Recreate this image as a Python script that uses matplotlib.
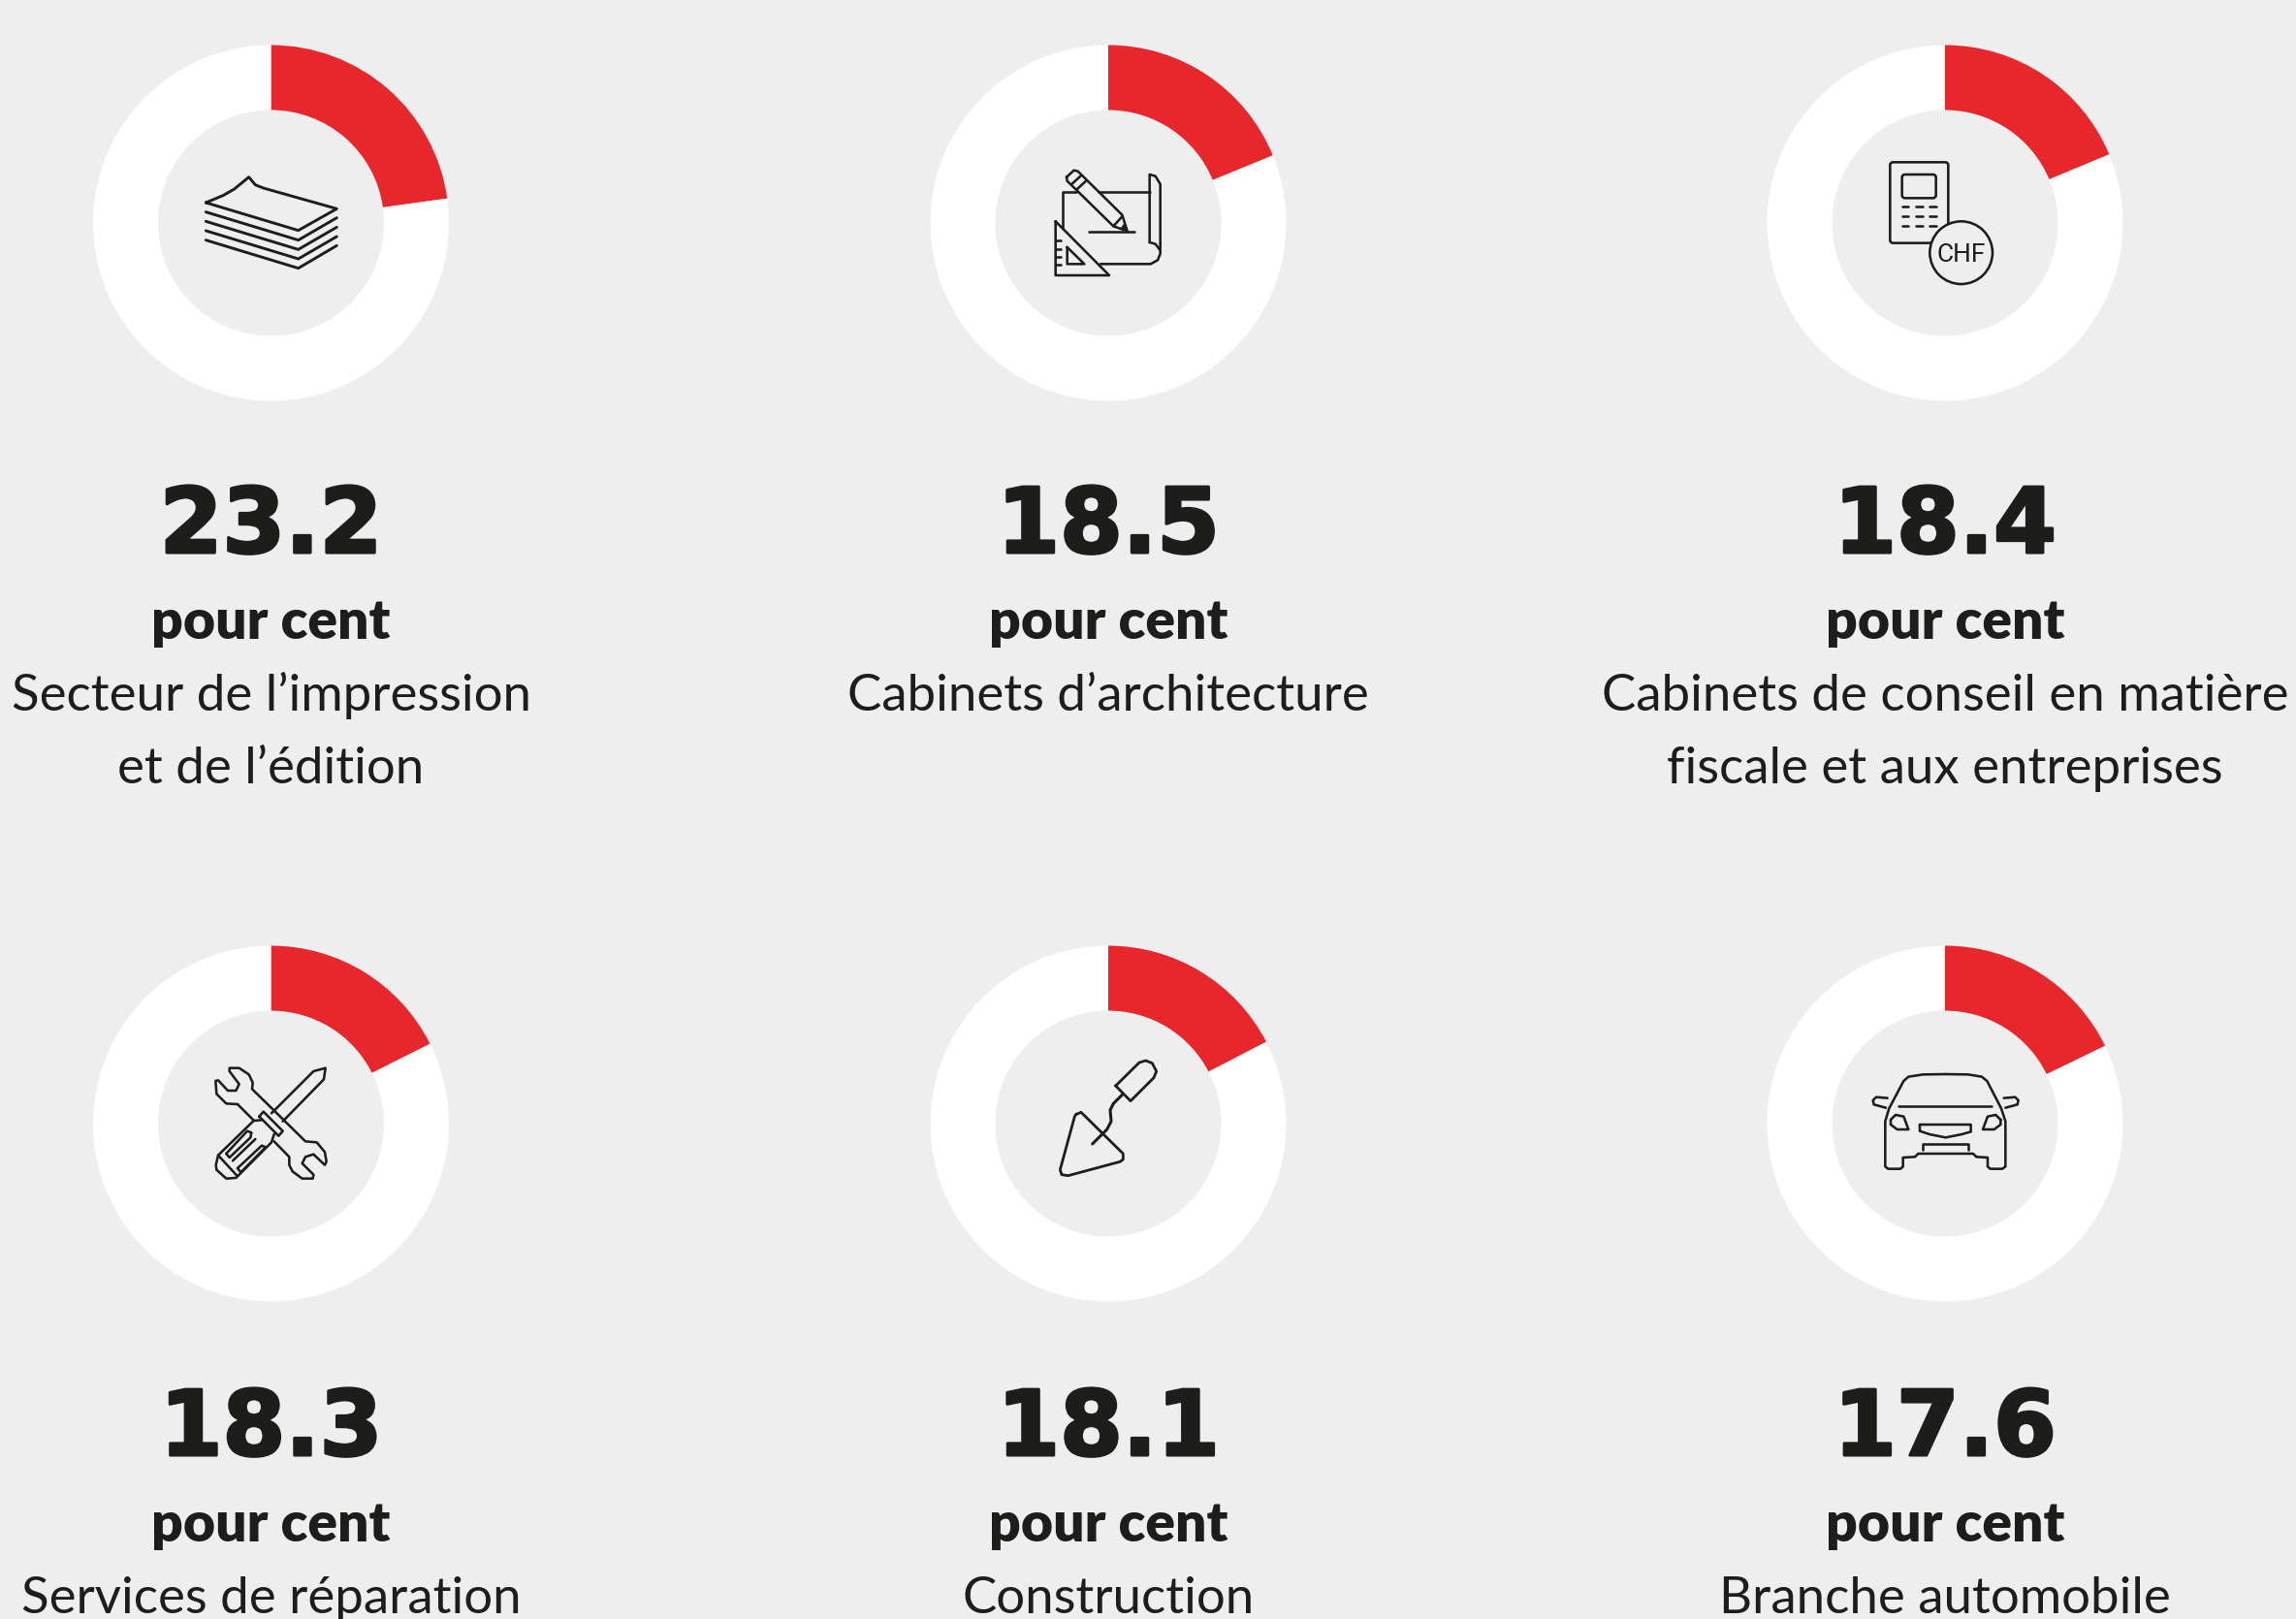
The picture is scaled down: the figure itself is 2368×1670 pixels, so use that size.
#!/usr/bin/env python3
import matplotlib
import matplotlib.pyplot as plt
import matplotlib.patheffects as pe
from matplotlib.patches import Circle, FancyBboxPatch

matplotlib.use("Agg")
matplotlib.rcParams["font.family"] = ["Lato", "DejaVu Sans"]

W, H = 2368, 1670
BG = "#eeeeee"
RED = "#e7272c"
INK = "#1d1d1b"

# the printed figures, and the red shares as actually drawn in the picture
value_labels = ["23.2", "18.5", "18.4", "18.3", "18.1", "17.6"]
shares = [22.8, 18.8, 18.7, 17.6, 17.4, 17.8]
unit = "pour cent"
labels = [
    ["Secteur de l’impression", "et de l’édition"],
    ["Cabinets d’architecture"],
    ["Cabinets de conseil en matière", "fiscale et aux entreprises"],
    ["Services de réparation"],
    ["Construction"],
    ["Branche automobile"],
]

COL_X = [279.5, 1143, 2006]
ROW_Y = [230, 1159]
TEXT_Y = [0, 931]
R_OUT = 183.5
R_IN = 116.5
LW = 1.85


def lines(ax, origin, polys, lw=LW):
    # icon outlines were measured on 3x crops, hence the /3
    for poly in polys:
        xs = [origin[0] + p[0] / 3 for p in poly]
        ys = [origin[1] + p[1] / 3 for p in poly]
        ax.plot(xs, ys, color=INK, lw=lw, solid_capstyle="round",
                solid_joinstyle="round", zorder=5)


def icon_paper(ax):
    polys = [
        [(187, 267), (240, 245), (275, 225), (320, 188), (340, 212), (365, 222),
         (592, 286), (473, 353), (187, 267)],
        [(187, 296), (473, 383), (592, 314)],
        [(187, 325), (473, 412), (592, 343)],
        [(187, 354), (473, 441), (592, 372)],
        [(187, 383), (473, 470), (592, 400)],
    ]
    lines(ax, (150, 120), polys, lw=2.1)


def icon_plan(ax):
    o = (1040, 140)
    polys = [
        [(210, 175), (168, 175), (168, 285)],
        [(280, 175), (437, 175)],
        [(437, 330), (437, 120), (455, 125), (470, 150), (470, 365), (462, 385),
         (440, 397), (285, 397)],
        [(437, 330), (455, 335), (470, 355)],
        [(146, 265), (146, 432), (312, 432), (146, 265)],
        [(182, 345), (182, 397), (235, 397), (182, 345)],
        [(146, 325), (163, 325)], [(146, 350), (163, 350)],
        [(146, 375), (163, 375)], [(146, 400), (163, 400)],
        [(180, 128), (203, 107), (215, 110), (352, 245), (368, 295), (325, 280),
         (182, 140), (180, 128)],
        [(198, 148), (223, 125)], [(213, 165), (240, 140)],
        [(325, 280), (352, 250)],
        [(250, 297), (390, 297)],
    ]
    lines(ax, o, polys)
    ax.fill([o[0] + x / 3 for x in (350, 368, 360)],
            [o[1] + y / 3 for y in (286, 296, 272)], color=INK, zorder=5)


def icon_chf(ax):
    o = (1900, 140)
    ax.add_patch(FancyBboxPatch((o[0] + 148 / 3, o[1] + 82 / 3), 180 / 3, 250 / 3,
                                boxstyle="round,pad=0,rounding_size=3", fc="none",
                                ec=INK, lw=LW, zorder=4))
    ax.add_patch(FancyBboxPatch((o[0] + 185 / 3, o[1] + 120 / 3), 105 / 3, 73 / 3,
                                boxstyle="round,pad=0,rounding_size=3", fc="none",
                                ec=INK, lw=LW, zorder=4))
    dashes = []
    for y in (220, 250, 280):
        for x in (185, 228, 270):
            dashes.append([(x, y), (x + 20, y)])
    lines(ax, o, dashes)
    ax.add_patch(Circle((o[0] + 368 / 3, o[1] + 362 / 3), 97 / 3, fc=BG, ec=INK,
                        lw=LW, zorder=6))
    ax.text(o[0] + 369 / 3, o[1] + 390 / 3, "CHF", ha="center", va="baseline",
            fontsize=19, color=INK, family="Roboto", zorder=7)


def icon_tools(ax):
    polys = [
        [(165, 207), (130, 205), (100, 175), (97, 135), (105, 133), (135, 165),
         (160, 165), (170, 145), (140, 105), (140, 95), (170, 95), (200, 115),
         (212, 140), (210, 160), (310, 258), (375, 322), (410, 325), (435, 355),
         (440, 385), (435, 395), (400, 362), (375, 370), (365, 390), (400, 425),
         (398, 437), (365, 437), (335, 415), (325, 395), (325, 370), (278, 322)],
        [(165, 207), (213, 255)],
        [(270, 235), (400, 105), (437, 95), (432, 130), (305, 260)],
        [(232, 245), (245, 230), (305, 290), (292, 305), (232, 245)],
        [(240, 256), (215, 258), (105, 365), (98, 395), (100, 410), (130, 437),
         (160, 435), (270, 325), (278, 300)],
        [(105, 365), (165, 430)],
        [(130, 360), (195, 290), (208, 295), (205, 310), (140, 372), (130, 360)],
        [(150, 382), (220, 315)],
        [(165, 405), (240, 335), (252, 340), (175, 418), (165, 405)],
    ]
    lines(ax, (190, 1070), polys)


def icon_trowel(ax):
    o = (1060, 1070)
    polys = [
        [(150, 238), (165, 232), (295, 360), (295, 378), (285, 385), (125, 428),
         (105, 425), (100, 410), (145, 245), (150, 238)],
        [(272, 150), (345, 78), (365, 72), (385, 80), (398, 105), (390, 125),
         (318, 197), (272, 150)],
    ]
    lines(ax, o, polys, lw=2.0)
    lines(ax, o, [[(295, 175), (265, 205), (255, 225), (258, 260), (245, 285),
                   (200, 330)]], lw=2.2)


def icon_car(ax):
    def mirror(poly):
        return [(580 - x, y) for x, y in poly]

    mirror_l = [(110, 158), (75, 155), (65, 165), (68, 178), (105, 188)]
    light_l = [(120, 225), (135, 210), (160, 215), (175, 255), (140, 255),
               (120, 240), (120, 225)]
    polys = [
        [(290, 84), (220, 85), (175, 92), (160, 105), (115, 190), (103, 230),
         (103, 370), (112, 377), (150, 377), (158, 370), (158, 342), (195, 340),
         (205, 330), (375, 330), (385, 340), (420, 342), (420, 370), (428, 377),
         (465, 377), (475, 370), (475, 230), (462, 190), (418, 105), (402, 92),
         (360, 85), (290, 84)],
        [(145, 184), (433, 184)],
        mirror_l, mirror(mirror_l), light_l, mirror(light_l),
        [(210, 240), (368, 240), (368, 262), (340, 270), (290, 280), (240, 270),
         (210, 260), (210, 240)],
        [(218, 318), (218, 300), (360, 300), (360, 318)],
    ]
    lines(ax, (1910, 1080), polys)


ICONS = [icon_paper, icon_plan, icon_chf, icon_tools, icon_trowel, icon_car]


def draw_donut(fig, cx, cy, value):
    ax = fig.add_axes([(cx - R_OUT) / W, 1 - (cy + R_OUT) / H,
                       2 * R_OUT / W, 2 * R_OUT / H])
    ax.pie([value, 100 - value], colors=[RED, "white"], startangle=90,
           counterclock=False, radius=1.0,
           wedgeprops={"width": 1 - R_IN / R_OUT, "linewidth": 0})
    ax.set_xlim(-1, 1)
    ax.set_ylim(-1, 1)
    ax.axis("off")


def main():
    fig = plt.figure(figsize=(W / 100, H / 100), dpi=100, facecolor=BG)

    for i, share in enumerate(shares):
        draw_donut(fig, COL_X[i % 3], ROW_Y[i // 3], share)

    # overlay in reference pixels for texts and icons
    ov = fig.add_axes([0, 0, 1, 1], zorder=10)
    ov.set_xlim(0, W)
    ov.set_ylim(H, 0)
    ov.axis("off")

    for i, draw_icon in enumerate(ICONS):
        draw_icon(ov)
        x = COL_X[i % 3]
        dy = TEXT_Y[i // 3]
        # DejaVu Bold is a bit thin next to the original black cut
        ov.text(x, 570 + dy, value_labels[i], ha="center", va="baseline",
                fontsize=67, fontweight="bold", family="DejaVu Sans", color=INK,
                path_effects=[pe.withStroke(linewidth=2.2, foreground=INK)])
        ov.text(x, 659 + dy, unit, ha="center", va="baseline", fontsize=41,
                fontweight=800, color=INK)
        for j, line in enumerate(labels[i]):
            ov.text(x, 733 + dy + 75 * j, line, ha="center", va="baseline",
                    fontsize=38, fontweight="normal", color=INK)

    fig.savefig("out.png", dpi=100, facecolor=BG)
    plt.close(fig)


if __name__ == "__main__":
    main()
